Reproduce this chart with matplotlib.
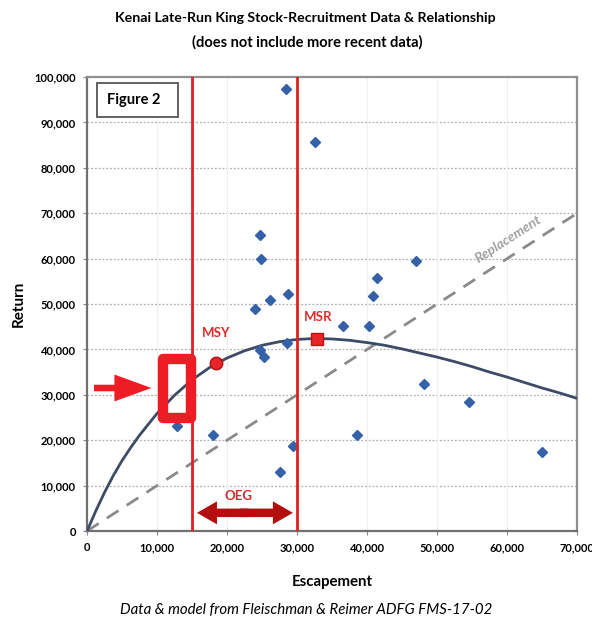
import matplotlib
matplotlib.use("Agg")
import matplotlib.pyplot as plt
from matplotlib.patches import Rectangle, FancyArrowPatch

plt.rcParams['font.family'] = ['Lato', 'DejaVu Sans']

# Observed data (escapement, return)
escapement = [12900, 18000, 24000, 24700, 24900, 24700, 25300, 26200, 27500, 28400,
              28500, 28700, 29400, 32500, 36600, 38500, 40300, 40900, 41400, 47000,
              48100, 54600, 65000]
returns = [23100, 21100, 48900, 65200, 59900, 39900, 38300, 50900, 13000, 97300,
           41400, 52200, 18700, 85700, 45200, 21200, 45200, 51800, 55700, 59500,
           32400, 28400, 17400]

# Stock-recruitment model curve
curve_s = [0, 1250, 2500, 3750, 5000, 6250, 7500, 10000, 12500, 15000, 17500, 20000,
           22500, 25000, 27500, 30000, 32500, 35000, 37500, 40000, 42500, 45000,
           47500, 50000, 52500, 55000, 57500, 60000, 62500, 65000, 67500, 70000]
curve_r = [0, 4400, 8500, 12200, 15500, 18400, 21100, 25900, 29900, 33300, 36000,
           38100, 39700, 40900, 41700, 42200, 42400, 42300, 42000, 41500, 40900,
           40100, 39200, 38300, 37300, 36200, 35000, 33900, 32700, 31500, 30400, 29200]

replacement_x = [0, 70000]
replacement_y = [0, 70000]

oeg_bounds = [15000, 30000]
msy = (18400, 37000)
msr = (32900, 42300)

x_ticks = [0, 10000, 20000, 30000, 40000, 50000, 60000, 70000]
y_ticks = [0, 10000, 20000, 30000, 40000, 50000, 60000, 70000, 80000, 90000, 100000]

fig = plt.figure(figsize=(5.92, 6.25), dpi=100)
ax = fig.add_axes([0.147, 0.1504, 0.828, 0.7264])
ax.set_xlim(0, 70000)
ax.set_ylim(0, 100000)

# grid
for yv in y_ticks[1:-1]:
    ax.axhline(yv, color='#b0b0b0', lw=0.9, ls=(0, (1.5, 1.5)), zorder=0)
for xv in x_ticks[1:-1]:
    ax.axvline(xv, color='#f0f0f0', lw=0.8, zorder=0)

# replacement line
ax.plot(replacement_x, replacement_y, color='#8a8a8a', lw=2, ls=(0, (5, 3.5)), zorder=2)
ax.text(60100, 64300, 'Replacement', rotation=33, color='#a0a0a0', fontsize=10,
        fontstyle='italic', fontweight='bold', ha='center', va='center')

# model curve
ax.plot(curve_s, curve_r, color='#3d4b66', lw=2, zorder=3)

# data points
ax.plot(escapement, returns, 'D', color='#3461a8', markersize=5.5, zorder=4, linestyle='none')

# OEG lines
for b in oeg_bounds:
    ax.axvline(b, color='#e02020', lw=2, zorder=5)

# MSY / MSR
ax.plot([msy[0]], [msy[1]], 'o', color='#e8262a', markeredgecolor='#b01010',
        markersize=9, zorder=6)
ax.plot([msr[0]], [msr[1]], 's', color='#e8262a', markeredgecolor='#c01010',
        markersize=8, zorder=6)
ax.text(18400, 43600, 'MSY', color='#e02a2a', fontweight='bold', fontsize=9.5,
        ha='center', va='center')
ax.text(33000, 47100, 'MSR', color='#e02a2a', fontweight='bold', fontsize=9.5,
        ha='center', va='center')

# red highlight box
ax.add_patch(Rectangle((10800, 25000), 4100, 12900, fill=False, edgecolor='#ee1c24',
                       lw=7.5, joinstyle='round', zorder=7))
# red arrow
ax.add_patch(FancyArrowPatch((1000, 31500), (9200, 31500),
                             arrowstyle='simple,head_length=3.1,head_width=2.25,tail_width=0.55',
                             mutation_scale=8.6, color='#ee1c24', lw=0, zorder=7,
                             shrinkA=0, shrinkB=0))

# OEG double arrow (two halves from the middle)
oeg_mid = (oeg_bounds[0] + oeg_bounds[1]) / 2
for start, end in ((oeg_mid + 600, 15700), (oeg_mid - 600, 29400)):
    ax.add_patch(FancyArrowPatch((start, 4000), (end, 4000),
                                 arrowstyle='simple,head_length=2.0,head_width=2.3,tail_width=0.85',
                                 mutation_scale=7.2, color='#b30f0f', lw=0, zorder=7,
                                 shrinkA=0, shrinkB=0))
ax.text(21600, 7600, 'OEG', color='#d42a2a', fontweight='bold', fontsize=9.5,
        ha='center', va='center')

# Figure 2 box
ax.add_patch(Rectangle((0.0204, 0.912), 0.165, 0.075, transform=ax.transAxes,
                       facecolor='white', edgecolor='#555555', lw=1.3, zorder=8))
ax.text(0.041, 0.949, 'Figure 2', transform=ax.transAxes, fontweight='bold',
        fontsize=10.5, ha='left', va='center', zorder=9)

# axes styling
ax.set_xticks(x_ticks)
ax.set_yticks(y_ticks)
ax.set_xticklabels([f'{v:,}' for v in x_ticks], fontweight='bold', fontsize=8)
ax.set_yticklabels([f'{v:,}' for v in y_ticks], fontweight='bold', fontsize=8)
ax.tick_params(length=3, color='#888888', pad=5)
for side in ['left', 'bottom']:
    ax.spines[side].set_color('#707070')
    ax.spines[side].set_linewidth(1.6)
for side in ['top', 'right']:
    ax.spines[side].set_color('#909090')
    ax.spines[side].set_linewidth(1.6)

ax.set_xlabel('Escapement', fontweight='bold', fontsize=10.8, labelpad=16)
ax.set_ylabel('Return', fontweight='bold', fontsize=11, labelpad=6)

fig.text(0.515, 0.971, 'Kenai Late-Run King Stock-Recruitment Data & Relationship',
         ha='center', va='center', fontweight='bold', fontsize=10.2)
fig.text(0.519, 0.933, '(does not include more recent data)',
         ha='center', va='center', fontweight='bold', fontsize=10.5)
fig.text(0.518, 0.013, 'Data & model from Fleischman & Reimer ADFG FMS-17-02',
         ha='center', va='bottom', fontstyle='italic', fontsize=10.8)

fig.savefig('out.png', dpi=100, facecolor='white')
